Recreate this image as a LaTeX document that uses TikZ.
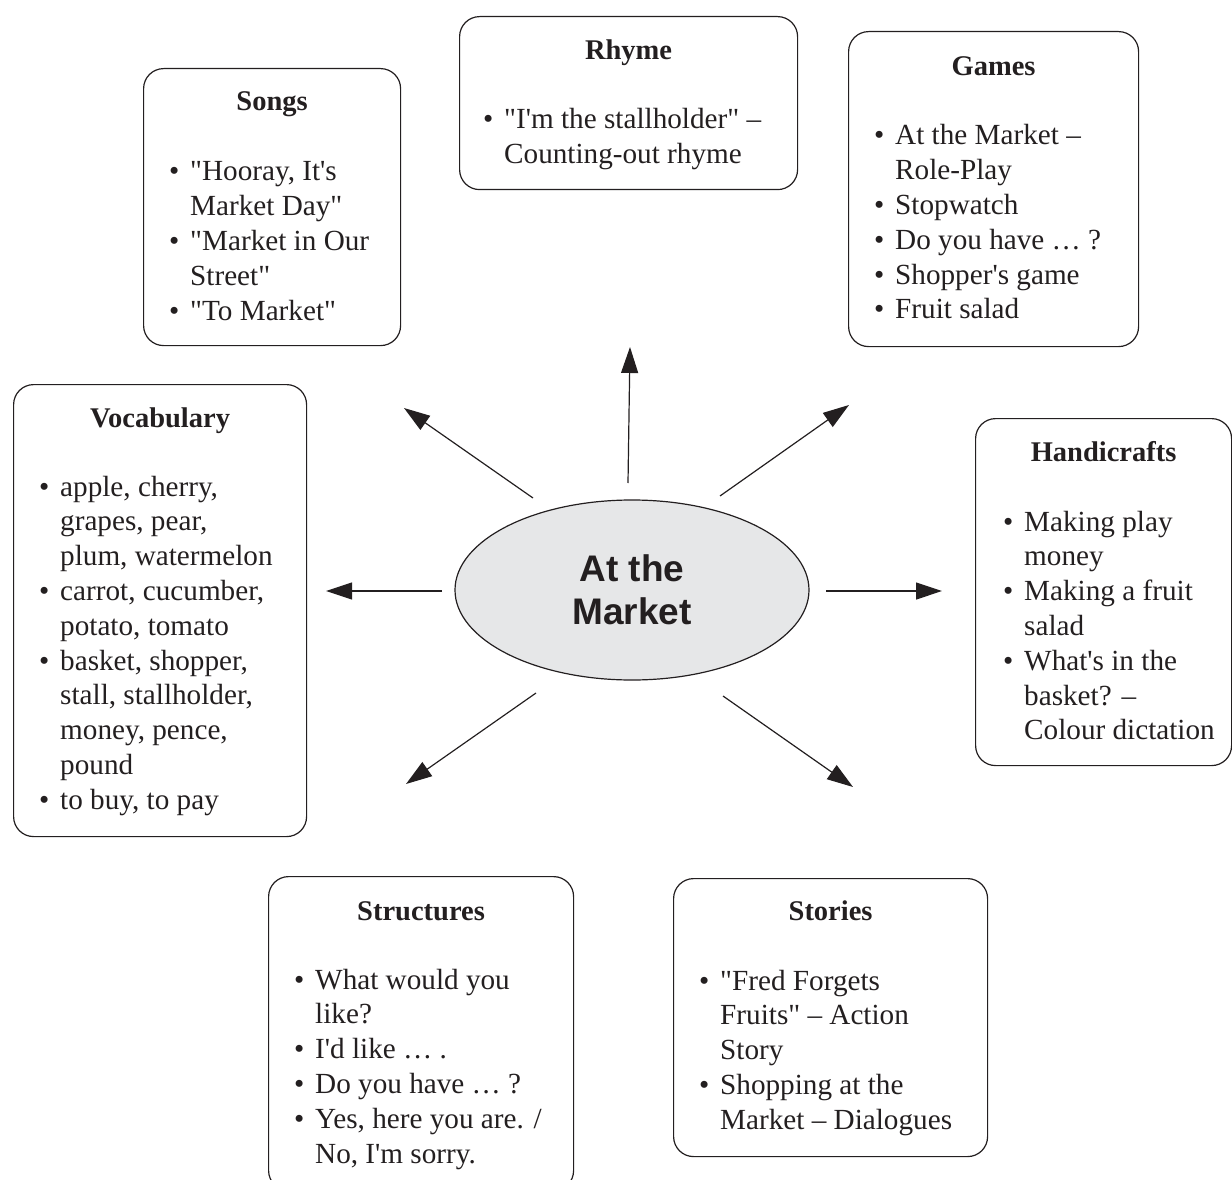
\documentclass[tikz,border=0pt]{standalone}
\usepackage{fontspec}
\setmainfont{Liberation Serif}
\newfontfamily\centerfont{Liberation Sans}
\usetikzlibrary{arrows.meta,shapes.geometric,calc}
\definecolor{ink}{HTML}{231F20}
\definecolor{ovalfill}{HTML}{E6E7E8}
\newcommand\bitem{\makebox[21pt][l]{\textbullet}}
\newcommand\bcont{\hspace*{21pt}}
\newcommand\apo{\textquotesingle}
\newcommand\qq{\XeTeXglyph\XeTeXcharglyph"22\relax}
\begin{document}
\begin{tikzpicture}[x=1pt,y=-1pt,
  box/.style={draw=ink, line width=1.2pt, rounded corners=20pt, inner sep=0pt, anchor=north west},
  head/.style={font=\fontsize{28.5}{34.8}\selectfont\bfseries, text=ink, inner sep=0pt, anchor=base},
  items/.style={font=\fontsize{29.2}{34.8}\selectfont, text=ink, inner sep=0pt, anchor=base west},
  arr/.style={draw=ink, line width=1.2pt, -{Triangle[length=26pt,width=17pt]}}]
\useasboundingbox (0,0) rectangle (1232,1180);

% Center
\node[ellipse, draw=ink, line width=1.2pt, fill=ovalfill, minimum width=354pt, minimum height=180pt,
      inner sep=0pt, align=center, text=ink,
      font=\centerfont\bfseries\fontsize{37}{43}\selectfont] (center) at (632,590) {At the\\Market};

% Songs
\node[box, minimum width=257pt, minimum height=277pt] (songs) at (143,68) {};
\node[head] (songsh) at ($(songs.north)+(0,43)$) {Songs};
\node[items] (songsi) at ($(songs.north west)+(26,113)$) {\begin{tabular}[t]{@{}l@{}}
\bitem \qq Hooray, It\apo s\\
\bcont Market Day\qq\\
\bitem \qq Market in Our\\
\bcont Street\qq\\
\bitem \qq To Market\qq
\end{tabular}};

% Rhyme
\node[box, minimum width=338pt, minimum height=173pt] (rhyme) at (459,16) {};
\node[head] (rhymeh) at ($(rhyme.north)+(0,44)$) {Rhyme};
\node[items] (rhymei) at ($(rhyme.north west)+(24,113)$) {\begin{tabular}[t]{@{}l@{}}
\bitem \qq I\apo m the stallholder\qq{} –\\
\bcont Counting-out rhyme
\end{tabular}};

% Games
\node[box, minimum width=290pt, minimum height=315pt] (games) at (848,31) {};
\node[head] (gamesh) at ($(games.north)+(0,45)$) {Games};
\node[items] (gamesi) at ($(games.north west)+(26,114)$) {\begin{tabular}[t]{@{}l@{}}
\bitem At the Market –\\
\bcont Role-Play\\
\bitem Stopwatch\\
\bitem Do you have … ?\\
\bitem Shopper\apo s game\\
\bitem Fruit salad
\end{tabular}};

% Vocabulary
\node[box, minimum width=293pt, minimum height=452pt] (vocab) at (13,384) {};
\node[head] (vocabh) at ($(vocab.north)+(0,43)$) {Vocabulary};
\node[items] (vocabi) at ($(vocab.north west)+(26,112)$) {\begin{tabular}[t]{@{}l@{}}
\bitem apple, cherry,\\
\bcont grapes, pear,\\
\bcont plum, watermelon\\
\bitem carrot, cucumber,\\
\bcont potato, tomato\\
\bitem basket, shopper,\\
\bcont stall, stallholder,\\
\bcont money, pence,\\
\bcont pound\\
\bitem to buy, to pay
\end{tabular}};

% Handicrafts
\node[box, minimum width=256pt, minimum height=347pt] (handi) at (975,418) {};
\node[head] (handih) at ($(handi.north)+(0,43)$) {Handicrafts};
\node[items] (handii) at ($(handi.north west)+(28,113)$) {\begin{tabular}[t]{@{}l@{}}
\bitem Making play\\
\bcont money\\
\bitem Making a fruit\\
\bcont salad\\
\bitem What\apo s in the\\
\bcont basket? –\\
\bcont Colour dictation
\end{tabular}};

% Structures
\node[box, minimum width=305pt, minimum height=314pt] (struct) at (268,876) {};
\node[head] (structh) at ($(struct.north)+(0,44)$) {Structures};
\node[items] (structi) at ($(struct.north west)+(26,113)$) {\begin{tabular}[t]{@{}l@{}}
\bitem What would you\\
\bcont like?\\
\bitem I\apo d like … .\\
\bitem Do you have … ?\\
\bitem Yes, here you are. /\\
\bcont No, I\apo m sorry.
\end{tabular}};

% Stories
\node[box, minimum width=314pt, minimum height=278pt] (stories) at (673,878) {};
\node[head] (storiesh) at ($(stories.north)+(0,42)$) {Stories};
\node[items] (storiesi) at ($(stories.north west)+(26,112)$) {\begin{tabular}[t]{@{}l@{}}
\bitem \qq Fred Forgets\\
\bcont Fruits\qq{} – Action\\
\bcont Story\\
\bitem Shopping at the\\
\bcont Market – Dialogues
\end{tabular}};

% Arrows
\coordinate (upS) at (628,483);  \coordinate (upE) at (630,347);
\coordinate (ulS) at (533,498);  \coordinate (ulE) at (404,408);
\coordinate (urS) at (720,496);  \coordinate (urE) at (849,405);
\coordinate (lS) at (442,591);   \coordinate (lE) at (326,591);
\coordinate (rS) at (826,591);   \coordinate (rE) at (942,591);
\coordinate (llS) at (536,693);  \coordinate (llE) at (406,784);
\coordinate (lrS) at (723,696);  \coordinate (lrE) at (853,787);
\draw[arr] (upS) -- (upE);
\draw[arr] (ulS) -- (ulE);
\draw[arr] (urS) -- (urE);
\draw[arr] (lS) -- (lE);
\draw[arr] (rS) -- (rE);
\draw[arr] (llS) -- (llE);
\draw[arr] (lrS) -- (lrE);
\end{tikzpicture}
\end{document}
